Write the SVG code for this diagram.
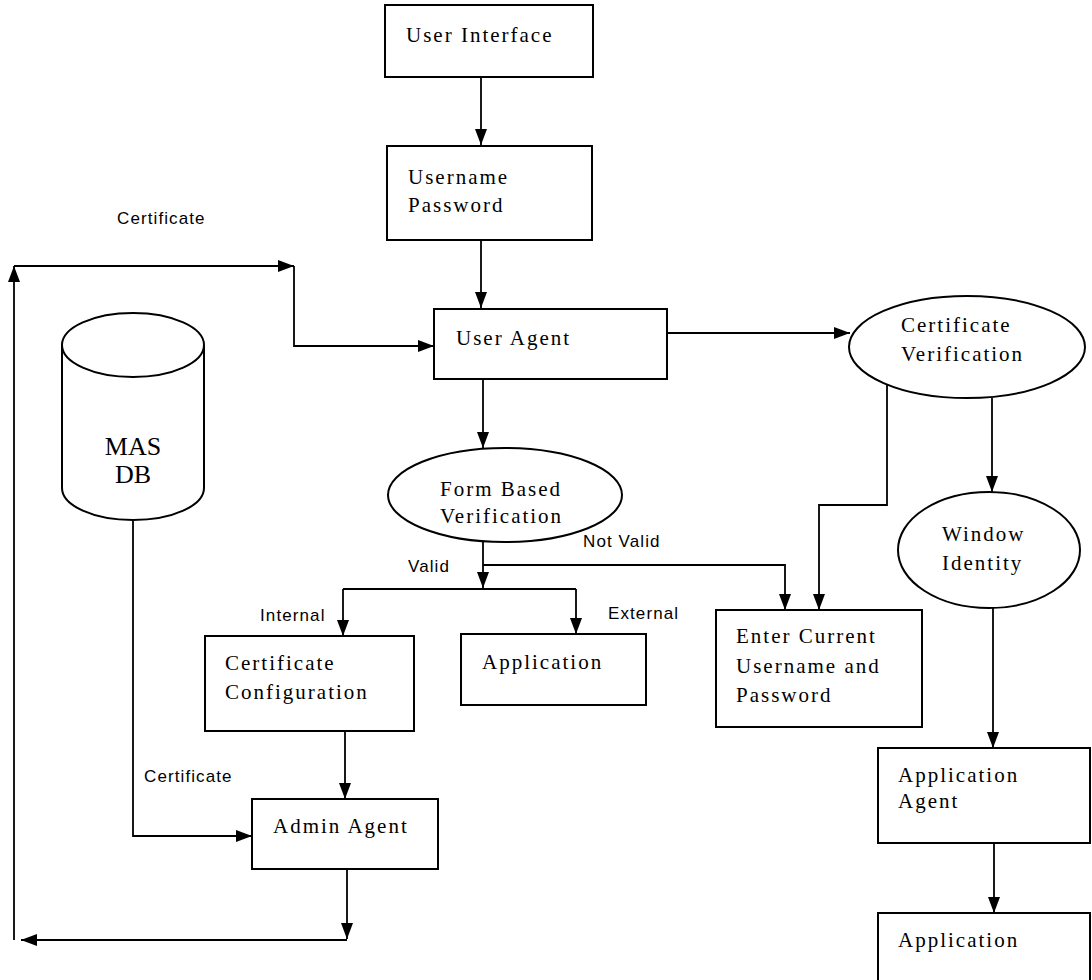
<svg xmlns="http://www.w3.org/2000/svg" width="1092" height="980" viewBox="0 0 1092 980">
<defs>
<marker id="ah" viewBox="0 0 16 12" refX="16" refY="6" markerWidth="16" markerHeight="12" markerUnits="userSpaceOnUse" orient="auto">
<path d="M0,0 L16,6 L0,12 Z" fill="#000"/>
</marker>
<style>
.box{fill:#fff;stroke:#000;stroke-width:2}
.lbl{font-family:"Liberation Serif","Times New Roman",serif;font-size:21px;letter-spacing:2px;fill:#000}
.big{font-family:"Liberation Serif","Times New Roman",serif;font-size:26px;fill:#000}
.edge{font-family:"Liberation Sans",Arial,sans-serif;font-size:17px;letter-spacing:1.1px;fill:#000}
.ln{fill:none;stroke:#000;stroke-width:1.8}
.arr{fill:none;stroke:#000;stroke-width:1.8;marker-end:url(#ah)}
</style>
</defs>
<rect width="1092" height="980" fill="#fff"/>
<g id="connectors">
<path class="arr" d="M481,77 L481,145"/>
<path class="arr" d="M481,240 L481,308"/>
<path class="arr" d="M483,379 L483,448"/>
<path class="arr" d="M667,333 L850,333"/>
<path class="arr" d="M992,398 L992,492"/>
<path class="ln" d="M483,542 L483,565"/>
<path class="arr" d="M483,565 L483,588"/>
<path class="arr" d="M483,565 L785,565 L785,610"/>
<path class="arr" d="M887,385 L887,505 L819,505 L819,610"/>
<path class="ln" d="M343,589 L576,589"/>
<path class="arr" d="M343,589 L343,636"/>
<path class="arr" d="M576,589 L576,634"/>
<path class="arr" d="M345,731 L345,799"/>
<path class="arr" d="M133,520 L133,836 L252,836"/>
<path class="arr" d="M347,869 L347,939"/>
<path class="arr" d="M347,940 L21,940"/>
<path class="arr" d="M14,940 L14,266"/>
<path class="arr" d="M14,266 L294,266"/>
<path class="arr" d="M294,266 L294,346 L434,346"/>
<path class="arr" d="M993,608 L993,748"/>
<path class="arr" d="M994,843 L994,913"/>
<text class="edge" x="117" y="224">Certificate</text>
<text class="edge" x="144" y="782">Certificate</text>
<text class="edge" x="408" y="572">Valid</text>
<text class="edge" x="583" y="547">Not Valid</text>
<text class="edge" x="260" y="621">Internal</text>
<text class="edge" x="608" y="619">External</text>
</g>
<g id="user-interface">
<rect class="box" x="385" y="5" width="208" height="72"/>
<text class="lbl" x="406" y="42">User Interface</text>
</g>
<g id="username-password">
<rect class="box" x="387" y="146" width="205" height="94"/>
<text class="lbl" x="408" y="184">Username</text>
<text class="lbl" x="408" y="212">Password</text>
</g>
<g id="user-agent">
<rect class="box" x="434" y="309" width="233" height="70"/>
<text class="lbl" x="456" y="345">User Agent</text>
</g>
<g id="mas-db">
<path class="box" d="M62,345 L62,488 A71,32 0 0 0 204,488 L204,345"/>
<ellipse class="box" cx="133" cy="345" rx="71" ry="32"/>
<text class="big" x="133" y="455" text-anchor="middle">MAS</text>
<text class="big" x="133" y="483" text-anchor="middle">DB</text>
</g>
<g id="certificate-verification">
<ellipse class="box" cx="967" cy="347" rx="118" ry="51"/>
<text class="lbl" x="901" y="332">Certificate</text>
<text class="lbl" x="901" y="361">Verification</text>
</g>
<g id="form-based-verification">
<ellipse class="box" cx="505" cy="495" rx="117" ry="47"/>
<text class="lbl" x="440" y="496">Form Based</text>
<text class="lbl" x="440" y="523">Verification</text>
</g>
<g id="window-identity">
<ellipse class="box" cx="989" cy="550" rx="91" ry="58"/>
<text class="lbl" x="942" y="541">Window</text>
<text class="lbl" x="942" y="570">Identity</text>
</g>
<g id="certificate-configuration">
<rect class="box" x="205" y="636" width="209" height="95"/>
<text class="lbl" x="225" y="670">Certificate</text>
<text class="lbl" x="225" y="699">Configuration</text>
</g>
<g id="application-external">
<rect class="box" x="461" y="634" width="185" height="71"/>
<text class="lbl" x="482" y="669">Application</text>
</g>
<g id="enter-current">
<rect class="box" x="716" y="610" width="206" height="117"/>
<text class="lbl" x="736" y="643">Enter Current</text>
<text class="lbl" x="736" y="673">Username and</text>
<text class="lbl" x="736" y="702">Password</text>
</g>
<g id="admin-agent">
<rect class="box" x="252" y="799" width="186" height="70"/>
<text class="lbl" x="273" y="833">Admin Agent</text>
</g>
<g id="application-agent">
<rect class="box" x="878" y="748" width="212" height="95"/>
<text class="lbl" x="898" y="782">Application</text>
<text class="lbl" x="898" y="808">Agent</text>
</g>
<g id="application">
<rect class="box" x="878" y="913" width="212" height="80"/>
<text class="lbl" x="898" y="947">Application</text>
</g>
</svg>
